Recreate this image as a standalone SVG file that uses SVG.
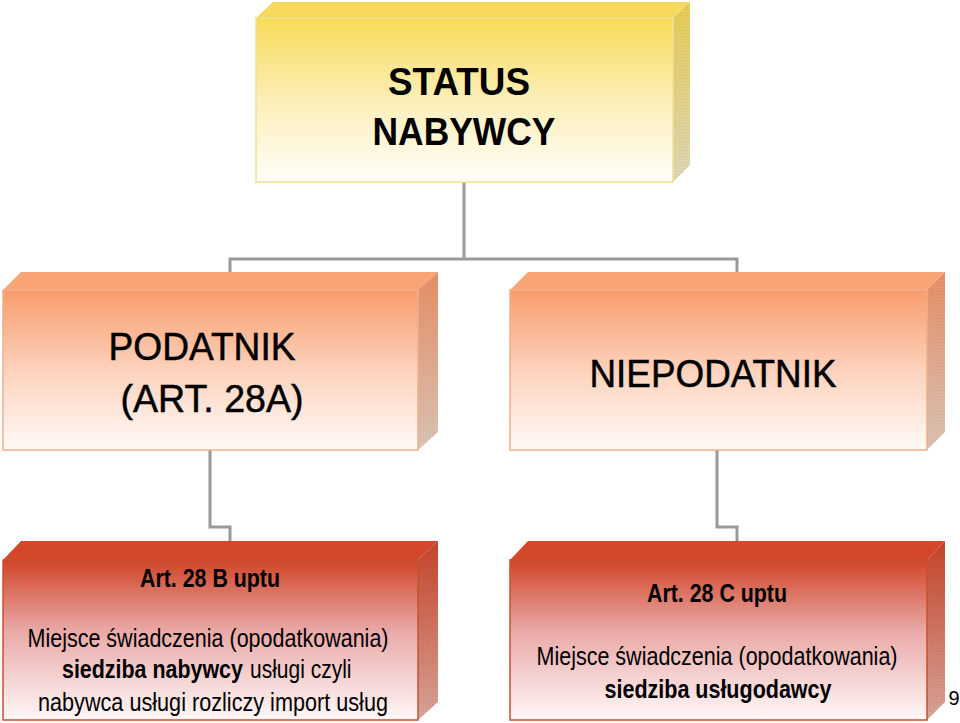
<svg xmlns="http://www.w3.org/2000/svg" width="960" height="723" viewBox="0 0 960 723">
  <defs>
    <linearGradient id="gY" x1="0" y1="0" x2="0" y2="1">
      <stop offset="0" stop-color="#f8da58"/>
      <stop offset="0.5" stop-color="#fcefb8"/>
      <stop offset="1" stop-color="#fffef8"/>
    </linearGradient>
    <linearGradient id="gYs" x1="0" y1="0" x2="0" y2="1">
      <stop offset="0" stop-color="#e6ca56"/>
      <stop offset="1" stop-color="#dcd6b4"/>
    </linearGradient>
    <linearGradient id="gO" x1="0" y1="0" x2="0" y2="1">
      <stop offset="0" stop-color="#f99c6c"/>
      <stop offset="0.5" stop-color="#fcd2bc"/>
      <stop offset="1" stop-color="#fffaf7"/>
    </linearGradient>
    <linearGradient id="gOs" x1="0" y1="0" x2="0" y2="1">
      <stop offset="0" stop-color="#e58e66"/>
      <stop offset="1" stop-color="#d9c3b4"/>
    </linearGradient>
    <linearGradient id="gR" x1="0" y1="0" x2="0" y2="1">
      <stop offset="0" stop-color="#d04528"/>
      <stop offset="0.45" stop-color="#e9aaa8"/>
      <stop offset="1" stop-color="#fff8f8"/>
    </linearGradient>
    <linearGradient id="gRs" x1="0" y1="0" x2="0" y2="1">
      <stop offset="0" stop-color="#c4442a"/>
      <stop offset="1" stop-color="#d8a498"/>
    </linearGradient>
    <pattern id="dots" width="3" height="3" patternUnits="userSpaceOnUse">
      <rect x="0" y="0" width="1" height="1" fill="#000" fill-opacity="0.07"/>
    </pattern>
  </defs>
  <style>
    .conn { fill: none; stroke: #999999; stroke-width: 3; }
    .t { font-family: "Liberation Sans", Arial, sans-serif; fill: #000; text-anchor: middle; }
    .s { text-anchor: start; }
    .b { font-weight: bold; }
    .m { stroke: #000; stroke-width: 0.5; }
    .yf { fill: url(#gY); stroke: #f0e096; stroke-width: 1.5; }
    .yt { fill: #f6d95c; }
    .ys { fill: url(#gYs); }
    .of { fill: url(#gO); stroke: #f1ae88; stroke-width: 1.5; }
    .ot { fill: #f8a474; }
    .os { fill: url(#gOs); }
    .rf { fill: url(#gR); stroke: #c9502e; stroke-width: 1.5; }
    .rt { fill: #d3482a; }
    .rs { fill: url(#gRs); }
    .dt { fill: url(#dots); }
  </style>
  <rect width="960" height="723" fill="#ffffff"/>

  <g id="connectors">
    <path class="conn" d="M464,182 V259"/>
    <path class="conn" d="M230,274 V259 H737 V274"/>
    <path class="conn" d="M210,450 V527 H230 V543"/>
    <path class="conn" d="M717,450 V527 H737 V543"/>
  </g>

  <g id="status">
    <polygon class="yt" points="256,18 273,2 690,2 673,18"/>
    <polygon class="ys" points="673,18 690,2 690,165 673,182"/>
    <polygon class="dt" points="673,18 690,2 690,165 673,182"/>
    <rect class="yf" x="256" y="18" width="417" height="164"/>
    <text class="t b" x="459" y="95" font-size="38" textLength="142" lengthAdjust="spacingAndGlyphs">STATUS</text>
    <text class="t b" x="464" y="145" font-size="38" textLength="183" lengthAdjust="spacingAndGlyphs">NABYWCY</text>
  </g>

  <g id="podatnik">
    <polygon class="ot" points="3,290 21,272 438,272 418,290"/>
    <polygon class="os" points="418,290 438,272 438,432 418,450"/>
    <polygon class="dt" points="418,290 438,272 438,432 418,450"/>
    <rect class="of" x="3" y="290" width="415" height="160"/>
    <text class="t m" x="202" y="360" font-size="39" textLength="187" lengthAdjust="spacingAndGlyphs">PODATNIK</text>
    <text class="t m" x="212" y="412" font-size="39" textLength="183" lengthAdjust="spacingAndGlyphs">(ART. 28A)</text>
  </g>

  <g id="niepodatnik">
    <polygon class="ot" points="510,290 528,272 945,272 927,290"/>
    <polygon class="os" points="927,290 945,272 945,432 927,450"/>
    <polygon class="dt" points="927,290 945,272 945,432 927,450"/>
    <rect class="of" x="510" y="290" width="417" height="160"/>
    <text class="t m" x="713" y="387" font-size="39" textLength="247" lengthAdjust="spacingAndGlyphs">NIEPODATNIK</text>
  </g>

  <g id="art28b">
    <polygon class="rt" points="3,560 21,541 438,541 418,560"/>
    <polygon class="rs" points="418,560 438,541 438,702 418,720"/>
    <polygon class="dt" points="418,560 438,541 438,702 418,720"/>
    <rect class="rf" x="3" y="560" width="415" height="160"/>
    <text class="t b" x="210" y="587" font-size="25" textLength="140" lengthAdjust="spacingAndGlyphs">Art. 28 B uptu</text>
    <text class="t" x="208" y="647" font-size="25" textLength="361" lengthAdjust="spacingAndGlyphs">Miejsce świadczenia (opodatkowania)</text>
    <text class="t s b" transform="translate(62,678) scale(0.857,1)" font-size="25">siedziba nabywcy</text>
    <text class="t s" transform="translate(250,678) scale(0.84,1)" font-size="25">usługi czyli</text>
    <text class="t" x="213" y="711" font-size="25" textLength="350" lengthAdjust="spacingAndGlyphs">nabywca usługi rozliczy import usług</text>
  </g>

  <g id="art28c">
    <polygon class="rt" points="510,560 528,541 945,541 927,560"/>
    <polygon class="rs" points="927,560 945,541 945,702 927,720"/>
    <polygon class="dt" points="927,560 945,541 945,702 927,720"/>
    <rect class="rf" x="510" y="560" width="417" height="160"/>
    <text class="t b" x="717" y="602" font-size="25" textLength="140" lengthAdjust="spacingAndGlyphs">Art. 28 C uptu</text>
    <text class="t" x="717" y="665" font-size="25" textLength="361" lengthAdjust="spacingAndGlyphs">Miejsce świadczenia (opodatkowania)</text>
    <text class="t b" x="718" y="698" font-size="25" textLength="227" lengthAdjust="spacingAndGlyphs">siedziba usługodawcy</text>
  </g>

  <text class="t" x="954" y="705" font-size="20">9</text>
</svg>
